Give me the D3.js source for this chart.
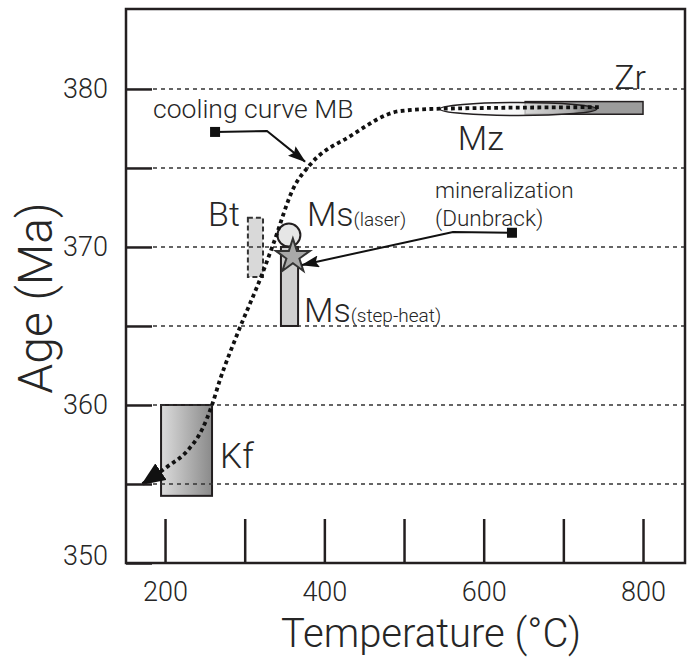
<!DOCTYPE html>
<html>
<head>
<meta charset="utf-8">
<script src="https://cdn.jsdelivr.net/npm/d3@7"></script>
<style>
  body { margin: 0; background: #fff; }
  svg { display: block; }
</style>
</head>
<body>
<script>
// axis ticks
const tempTicks = [200, 300, 400, 500, 600, 700, 800];
const tempLabels = [200, 400, 600, 800];
const ageTicks = [350, 355, 360, 365, 370, 375, 380];
const ageLabels = [350, 360, 370, 380];
const gridAges = [355, 360, 365, 370, 375, 380];

// cooling curve MB (temperature, age)
const coolingT = [172, 203, 228, 246, 259, 269, 290, 322, 336, 361, 382, 432, 495, 545, 746];
const coolingAge = [355.0, 356.1, 357.1, 358.4, 360.0, 361.6, 364.4, 368.3, 370.2, 373.7, 375.2, 377.0, 378.6, 378.75, 378.85];

// mineral ages: [min, max]
const kfTemp = [195, 259];
const kfAge = [354.25, 360];
const btTemp = [304, 323];
const btAge = [368.1, 371.85];
const msStepTemp = [345.5, 367];
const msStepAge = [365, 370];
const msLaser = [355.5, 370.75];
const mineralization = [360.5, 369.4];
const zrTemp = [652, 800];
const zrAge = [378.4, 379.2];
const mzTemp = [545, 742];
const mzAge = [378.32, 379.14];

// annotation leaders: square, bend, arrow tip
const coolingNote = [[262.8, 377.28], [328, 377.34], [375.7, 375.4]];
const mineralNote = [[635.5, 370.9], [561.5, 370.95], [372, 368.86]];

const W = 692, H = 662;
const ink = "#231f20";
const txt = "#262626";
const font = "Roboto, 'DejaVu Sans', sans-serif";

const x = d3.scaleLinear().domain([151, 852.7]).range([126, 685]);
const y = d3.scaleLinear().domain([350, 385.06]).range([563, 9]);

const svg = d3.select("body").append("svg")
  .attr("width", W)
  .attr("height", H);

const defs = svg.append("defs");

let kfGrad = defs.append("linearGradient").attr("id", "kfGrad");
kfGrad.append("stop").attr("offset", "0%").attr("stop-color", "#dcdcdc");
kfGrad.append("stop").attr("offset", "100%").attr("stop-color", "#8a8a8a");

let mzGrad = defs.append("linearGradient").attr("id", "mzGrad");
mzGrad.append("stop").attr("offset", "0%").attr("stop-color", "#ffffff");
mzGrad.append("stop").attr("offset", "50%").attr("stop-color", "#f4f4f4");
mzGrad.append("stop").attr("offset", "85%").attr("stop-color", "#b0b0b0");
mzGrad.append("stop").attr("offset", "100%").attr("stop-color", "#333");

defs.append("marker")
  .attr("id", "bigHead")
  .attr("markerUnits", "userSpaceOnUse")
  .attr("viewBox", "0 0 24 20")
  .attr("markerWidth", 24)
  .attr("markerHeight", 20)
  .attr("refX", 22)
  .attr("refY", 10)
  .attr("orient", "auto-start-reverse")
  .append("path")
  .attr("d", "M0,0 L24,10 L0,20 Z")
  .attr("fill", "#111");

defs.append("marker")
  .attr("id", "smallHead")
  .attr("markerUnits", "userSpaceOnUse")
  .attr("viewBox", "0 0 18 12")
  .attr("markerWidth", 18)
  .attr("markerHeight", 12)
  .attr("refX", 17)
  .attr("refY", 6)
  .attr("orient", "auto")
  .append("path")
  .attr("d", "M0,0 L18,6 L0,12 L3,6 Z")
  .attr("fill", "#111");

// K-feldspar box
svg.append("rect")
  .attr("x", x(kfTemp[0]))
  .attr("y", y(kfAge[1]))
  .attr("width", x(kfTemp[1]) - x(kfTemp[0]))
  .attr("height", y(kfAge[0]) - y(kfAge[1]))
  .attr("fill", "url(#kfGrad)")
  .attr("stroke", ink)
  .attr("stroke-width", 2);

// biotite box
svg.append("rect")
  .attr("x", x(btTemp[0]))
  .attr("y", y(btAge[1]))
  .attr("width", x(btTemp[1]) - x(btTemp[0]))
  .attr("height", y(btAge[0]) - y(btAge[1]))
  .attr("fill", "#d9d9d9")
  .attr("stroke", "#333")
  .attr("stroke-width", 2)
  .attr("stroke-dasharray", "5 3");

// dashed gridlines
svg.append("g")
  .selectAll("line")
  .data(gridAges)
  .join("line")
  .attr("x1", x.range()[0] + 27)
  .attr("x2", x.range()[1])
  .attr("y1", (d) => y(d))
  .attr("y2", (d) => y(d))
  .attr("stroke", "#333")
  .attr("stroke-width", 1.4)
  .attr("stroke-dasharray", "4 4");

// zircon bar and monazite ellipse
svg.append("rect")
  .attr("x", x(zrTemp[0]))
  .attr("y", y(zrAge[1]))
  .attr("width", x(zrTemp[1]) - x(zrTemp[0]))
  .attr("height", y(zrAge[0]) - y(zrAge[1]))
  .attr("fill", "#9c9c9c")
  .attr("stroke", ink)
  .attr("stroke-width", 1.5);

svg.append("ellipse")
  .attr("cx", x((mzTemp[0] + mzTemp[1]) / 2))
  .attr("cy", y((mzAge[0] + mzAge[1]) / 2))
  .attr("rx", (x(mzTemp[1]) - x(mzTemp[0])) / 2)
  .attr("ry", (y(mzAge[0]) - y(mzAge[1])) / 2)
  .attr("fill", "url(#mzGrad)")
  .attr("fill-opacity", 0.75)
  .attr("stroke", ink)
  .attr("stroke-width", 1.5);

// muscovite step-heat bar and laser circle
svg.append("rect")
  .attr("x", x(msStepTemp[0]))
  .attr("y", y(msStepAge[1]))
  .attr("width", x(msStepTemp[1]) - x(msStepTemp[0]))
  .attr("height", y(msStepAge[0]) - y(msStepAge[1]))
  .attr("fill", "#d0d0d0")
  .attr("stroke", ink)
  .attr("stroke-width", 2);

svg.append("circle")
  .attr("cx", x(msLaser[0]))
  .attr("cy", y(msLaser[1]))
  .attr("r", 11.5)
  .attr("fill", "#e6e6e6")
  .attr("stroke", ink)
  .attr("stroke-width", 2);

// cooling curve
let curve = d3.line()
  .x((d) => x(d[0]))
  .y((d) => y(d[1]))
  .curve(d3.curveMonotoneX);

svg.append("path")
  .datum(d3.zip(coolingT, coolingAge))
  .attr("d", curve)
  .attr("fill", "none")
  .attr("stroke", "#111")
  .attr("stroke-width", 3.8)
  .attr("stroke-dasharray", "3.8 3.4")
  .attr("marker-start", "url(#bigHead)");

// mineralization star
svg.append("path")
  .attr("transform", `translate(${x(mineralization[0])},${y(mineralization[1])})`)
  .attr("d", d3.symbol(d3.symbolStar, 360)())
  .attr("fill", "#a9a9a9")
  .attr("stroke", "#333")
  .attr("stroke-width", 2);

// annotation leaders
let leader = d3.line().x((d) => x(d[0])).y((d) => y(d[1]));
[coolingNote, mineralNote].forEach((pts) => {
  svg.append("path")
    .attr("d", leader(pts))
    .attr("fill", "none")
    .attr("stroke", "#111")
    .attr("stroke-width", 2)
    .attr("marker-end", "url(#smallHead)");
  svg.append("rect")
    .attr("x", x(pts[0][0]) - 5)
    .attr("y", y(pts[0][1]) - 5)
    .attr("width", 10)
    .attr("height", 10)
    .attr("fill", "#111");
});

// axes
let xAxis = d3.axisBottom(x)
  .tickValues(tempTicks)
  .tickSize(-44)
  .tickPadding(19)
  .tickFormat((d) => (tempLabels.includes(d) ? d : ""));

let gx = svg.append("g")
  .attr("transform", `translate(0,${y.range()[0]})`)
  .call(xAxis);

let yAxis = d3.axisLeft(y)
  .tickValues(ageTicks)
  .tickSize(-26)
  .tickPadding(18)
  .tickFormat((d) => (ageLabels.includes(d) ? d : ""));

let gy = svg.append("g")
  .attr("transform", `translate(${x.range()[0]},0)`)
  .call(yAxis);

[gx, gy].forEach((g) => {
  g.select(".domain").remove();
  g.selectAll(".tick line").attr("stroke", ink).attr("stroke-width", 2.5);
  g.selectAll(".tick text")
    .attr("fill", txt)
    .style("font-family", font)
    .style("font-weight", 300)
    .style("font-size", "27px");
});
gy.selectAll(".tick text").filter((d) => d === 350).attr("dy", "0.05em");

svg.append("rect")
  .attr("x", x.range()[0])
  .attr("y", y.range()[1])
  .attr("width", x.range()[1] - x.range()[0])
  .attr("height", y.range()[0] - y.range()[1])
  .attr("fill", "none")
  .attr("stroke", ink)
  .attr("stroke-width", 2.5);

// text helper
function label(tx, ty, str, size, anchor) {
  return svg.append("text")
    .attr("x", tx)
    .attr("y", ty)
    .attr("text-anchor", anchor || "start")
    .attr("fill", txt)
    .style("font-family", font)
    .style("font-weight", 300)
    .style("font-size", size + "px")
    .text(str);
}

// axis titles
label(431, 647, "Temperature (°C)", 40, "middle");
label(0, 0, "Age (Ma)", 48, "middle")
  .attr("transform", "translate(52,298) rotate(-90)");

// mark labels
label(x(kfTemp[1]) + 8, y(kfAge[0]) - 28, "Kf", 35);
label(x(btTemp[0]) - 8, y(btAge[1]) + 8, "Bt", 34, "end");
label(x(zrTemp[1]) + 3, y(zrAge[1]) - 13, "Zr", 34, "end");
label(x(mzTemp[0]) + 18, y(mzAge[0]) + 34, "Mz", 34);

let msL = label(x(msLaser[0]) + 18, y(msLaser[1]) - 9, "Ms", 34);
msL.append("tspan").style("font-size", "19px").text("(laser)");
let msS = label(x(msStepTemp[1]) + 6, y(msStepAge[0]) - 4, "Ms", 34);
msS.append("tspan").style("font-size", "19px").text("(step-heat)");

label(x(coolingNote[0][0]) - 62, y(coolingNote[0][1]) - 14, "cooling curve MB", 26.5);
label(x(mineralNote[0][0]) - 77, y(mineralNote[0][1]) - 35, "mineralization", 22.5);
label(x(mineralNote[0][0]) - 77, y(mineralNote[0][1]) - 7, "(Dunbrack)", 22.5);
</script>
</body>
</html>
